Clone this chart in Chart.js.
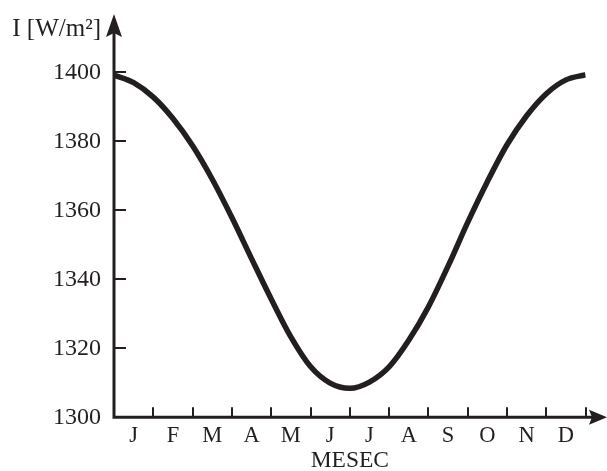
<!DOCTYPE html>
<html>
<head>
<meta charset="utf-8">
<script src="https://cdn.jsdelivr.net/npm/chart.js@4"></script>
<style>
  html, body { margin: 0; padding: 0; background: #ffffff; }
  #c { display: block; }
</style>
</head>
<body>
<canvas id="c" width="607" height="471"></canvas>
<script>
// ---- Data ----
const monthLabels = ['J', 'F', 'M', 'A', 'M', 'J', 'J', 'A', 'S', 'O', 'N', 'D'];
// position along the x axis, in months from the start of January
const monthPos = [0, 0.5, 1, 1.5, 2, 2.5, 3, 3.5, 4, 4.5, 5, 5.5, 6,
                  6.5, 7, 7.5, 8, 8.5, 9, 9.5, 10, 10.5, 11, 11.5, 12];
// solar irradiance I [W/m²]
const irradiance = [1399.2, 1397.0, 1392.8, 1386.6, 1378.7, 1369.0, 1357.9, 1346.0, 1334.3, 1323.3, 1314.7, 1309.9, 1308.4,
                    1310.2, 1314.6, 1322.3, 1332.0, 1343.8, 1356.5, 1368.3, 1379.0, 1387.4, 1393.8, 1397.8, 1399.3];
const yTicks = [1300, 1320, 1340, 1360, 1380, 1400];
const yTitle = 'I [W/m²]';
const xTitle = 'MESEC';

const INK = '#231f20';
const FONT = "'Liberation Serif', 'Times New Roman', serif";

const points = monthPos.map((m, i) => ({ x: m, y: irradiance[i] }));

const axesPlugin = {
  id: 'axesPlugin',
  afterDatasetsDraw(chart) {
    const { ctx, chartArea: ca, scales: { x, y } } = chart;
    const left = ca.left, bottom = ca.bottom;
    ctx.save();
    ctx.strokeStyle = INK;
    ctx.fillStyle = INK;
    // axis lines
    ctx.lineWidth = 3;
    ctx.beginPath();
    ctx.moveTo(left, bottom + 1.5);
    ctx.lineTo(left, 30);
    ctx.moveTo(left - 1.5, bottom);
    ctx.lineTo(595, bottom);
    ctx.stroke();
    // arrow heads
    ctx.beginPath();
    ctx.moveTo(left, 14);
    ctx.lineTo(left - 8, 37);
    ctx.lineTo(left, 33);
    ctx.lineTo(left + 8, 37);
    ctx.closePath();
    ctx.fill();
    ctx.beginPath();
    ctx.moveTo(607, bottom);
    ctx.lineTo(589, bottom - 7.5);
    ctx.lineTo(592, bottom);
    ctx.lineTo(589, bottom + 7.5);
    ctx.closePath();
    ctx.fill();
    // tick marks
    ctx.lineWidth = 2;
    ctx.beginPath();
    yTicks.forEach(v => {
      if (v === yTicks[0]) return;
      const py = Math.round(y.getPixelForValue(v));
      ctx.moveTo(left, py);
      ctx.lineTo(left + 12, py);
    });
    for (let i = 1; i <= monthLabels.length; i++) {
      const px = Math.round(x.getPixelForValue(i));
      ctx.moveTo(px, bottom);
      ctx.lineTo(px, bottom - 10);
    }
    ctx.stroke();
    // y axis title
    ctx.font = '25px ' + FONT;
    ctx.textAlign = 'right';
    ctx.textBaseline = 'middle';
    ctx.fillText(yTitle, 101, 29);
    ctx.restore();
  }
};

new Chart(document.getElementById('c'), {
  type: 'line',
  data: {
    datasets: [{
      data: points,
      borderColor: INK,
      borderWidth: 5.5,
      pointRadius: 0,
      fill: false,
      cubicInterpolationMode: 'monotone'
    }]
  },
  options: {
    responsive: false,
    animation: false,
    devicePixelRatio: 1,
    layout: { padding: { top: 72.3, right: 21.4, left: 0, bottom: 0 } },
    plugins: { legend: { display: false }, tooltip: { enabled: false } },
    scales: {
      x: {
        type: 'linear',
        min: 0,
        max: 12,
        grid: { display: false },
        border: { display: false },
        afterBuildTicks(scale) {
          scale.ticks = monthLabels.map((_, i) => ({ value: i + 0.5 }));
        },
        afterFit(scale) { scale.height = 53.7; },
        ticks: {
          autoSkip: false,
          maxRotation: 0,
          padding: -3,
          color: INK,
          font: { family: FONT, size: 22.5 },
          callback: (v) => monthLabels[Math.floor(v)]
        },
        title: {
          display: true,
          text: xTitle,
          color: INK,
          font: { family: FONT, size: 23.5, lineHeight: 0.9 },
          padding: { top: 0, bottom: 0 }
        }
      },
      y: {
        min: yTicks[0],
        max: yTicks[yTicks.length - 1],
        grid: { display: false },
        border: { display: false },
        afterFit(scale) { scale.width = 114; },
        afterBuildTicks(scale) {
          scale.ticks = yTicks.map(v => ({ value: v }));
        },
        ticks: {
          padding: 5,
          color: INK,
          font: { family: FONT, size: 24 },
          callback: (v) => String(v)
        }
      }
    }
  },
  plugins: [axesPlugin]
});
</script>
</body>
</html>
